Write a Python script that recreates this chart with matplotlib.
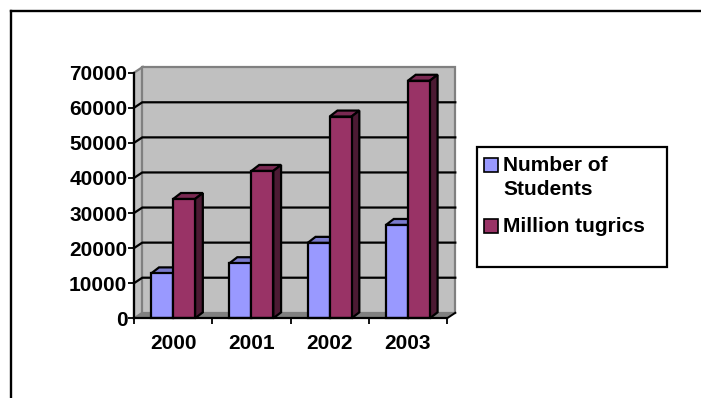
import matplotlib
matplotlib.use("Agg")
import matplotlib.pyplot as plt
from matplotlib.patches import Polygon, Rectangle
from matplotlib.lines import Line2D

# ---- data ----
years = ["2000", "2001", "2002", "2003"]
students = [12800, 15700, 21500, 26600]
tugrics = [34000, 42000, 57500, 67700]
series_names = ["Number of\nStudents", "Million tugrics"]
yticks = [0, 10000, 20000, 30000, 40000, 50000, 60000, 70000]

# ---- style ----
W, H = 701, 398
DPI = 100
FONT = "Liberation Sans"
FS = 15
c_blue, c_blue_top, c_blue_side = "#9999FF", "#7B7BCC", "#4D4D80"
c_mar, c_mar_top, c_mar_side = "#993366", "#7A2952", "#4C1A33"
wall_c, wall_edge, floor_c = "#C0C0C0", "#808080", "#808080"

fig = plt.figure(figsize=(W / DPI, H / DPI), dpi=DPI)
fig.patch.set_facecolor("white")

# axes position in pixels (front plane)
x0, x1 = 134, 447
y0, y1 = 318.3, 72.7
ax = fig.add_axes([x0 / W, (H - y0) / H, (x1 - x0) / W, (y0 - y1) / H])
ax.set_xlim(0, len(years))
ax.set_ylim(0, 70000)
ax.set_facecolor("none")

px_x = len(years) / (x1 - x0)      # data units per pixel (x)
px_y = 70000 / (y0 - y1)           # data units per pixel (y)

# wall depth offsets
wdx, wdy = 8.3 * px_x, 5.5 * px_y
# bar depth offsets
bdx, bdy = 7.8 * px_x, 6.0 * px_y

ymax = 70000
nx = len(years)

# side wall and back wall
ax.add_patch(Polygon([(0, 0), (wdx, wdy), (wdx, ymax + wdy), (0, ymax)],
                     closed=True, facecolor=wall_c, edgecolor=wall_edge,
                     linewidth=1.6, zorder=0, clip_on=False))
ax.add_patch(Rectangle((wdx, wdy), nx, ymax, facecolor=wall_c,
                       edgecolor=wall_edge, linewidth=1.6, zorder=0, clip_on=False))
# gridlines
for v in yticks[1:-1]:
    ax.add_line(Line2D([0, wdx, nx + wdx], [v, v + wdy, v + wdy], color="black",
                       linewidth=1.6, zorder=1, clip_on=False))
# floor
ax.add_patch(Polygon([(0, 0), (nx, 0), (nx + wdx, wdy), (wdx, wdy)], closed=True,
                     facecolor=floor_c, edgecolor="none", zorder=1, clip_on=False))
ax.add_line(Line2D([nx, nx + wdx], [0, wdy], color="black", linewidth=1.4,
                   zorder=1, clip_on=False))

# bars
bw = 0.28
centers = [i + 0.5 for i in range(nx)]
pos_s = [c - bw for c in centers]
pos_t = [c for c in centers]


def bar3d(xs, vals, front, top, side):
    ax.bar(xs, vals, width=bw, align="edge", color=front, edgecolor="black",
           linewidth=1.6, zorder=3, clip_on=False)
    for x, v in zip(xs, vals):
        ax.add_patch(Polygon([(x, v), (x + bdx, v + bdy), (x + bw + bdx, v + bdy),
                              (x + bw, v)], closed=True, facecolor=top,
                             edgecolor="black", linewidth=1.6, zorder=2, clip_on=False))
        ax.add_patch(Polygon([(x + bw, 0), (x + bw + bdx, bdy), (x + bw + bdx, v + bdy),
                              (x + bw, v)], closed=True, facecolor=side,
                             edgecolor="black", linewidth=1.6, zorder=2, clip_on=False))


bar3d(pos_s, students, c_blue, c_blue_top, c_blue_side)
bar3d(pos_t, tugrics, c_mar, c_mar_top, c_mar_side)

# axes / ticks
for s in ["top", "right"]:
    ax.spines[s].set_visible(False)
for s in ["left", "bottom"]:
    ax.spines[s].set_linewidth(1.6)
    ax.spines[s].set_zorder(4)
ax.set_yticks(yticks)
ax.set_yticklabels([str(v) for v in yticks])
ax.tick_params(axis="y", direction="out", length=4.3, width=1.3, pad=0.5,
               labelsize=FS)
ax.set_xticks(range(nx + 1))
ax.set_xticklabels([""] * (nx + 1))
ax.set_xticks(centers, minor=True)
ax.set_xticklabels(years, minor=True)
ax.tick_params(axis="x", which="major", direction="out", length=4.3, width=1.3)
ax.tick_params(axis="x", which="minor", length=0, pad=11.5, labelsize=FS)
for lab in ax.get_yticklabels() + ax.get_xticklabels(minor=True):
    lab.set_fontfamily(FONT)
    lab.set_fontweight("bold")

# legend (manual, figure pixel coords)
def fx(p):
    return p / W


def fy(p):
    return (H - p) / H


fig.add_artist(Rectangle((fx(476.7), fy(266.7)), fx(666.7) - fx(476.7),
                         fy(146.7) - fy(266.7), transform=fig.transFigure,
                         facecolor="white", edgecolor="black", linewidth=1.6))
leg_y = [165, 226]
for name, col, yy in zip(series_names, [c_blue, c_mar], leg_y):
    fig.add_artist(Rectangle((fx(484.5), fy(yy + 7)), fx(14), 14 / H,
                             transform=fig.transFigure, facecolor=col,
                             edgecolor="black", linewidth=1.2))
    fig.text(fx(503), fy(yy - 9), name, ha="left", va="top", fontsize=FS,
             fontweight="bold", family=FONT, linespacing=1.35)

# outer border (top and left only visible)
fig.add_artist(Line2D([fx(11), 1.0], [fy(10.5), fy(10.5)], transform=fig.transFigure,
                      color="black", linewidth=1.7))
fig.add_artist(Line2D([fx(11), fx(11)], [fy(10.5), 0], transform=fig.transFigure,
                      color="black", linewidth=1.7))

fig.savefig("out.png", dpi=DPI)
